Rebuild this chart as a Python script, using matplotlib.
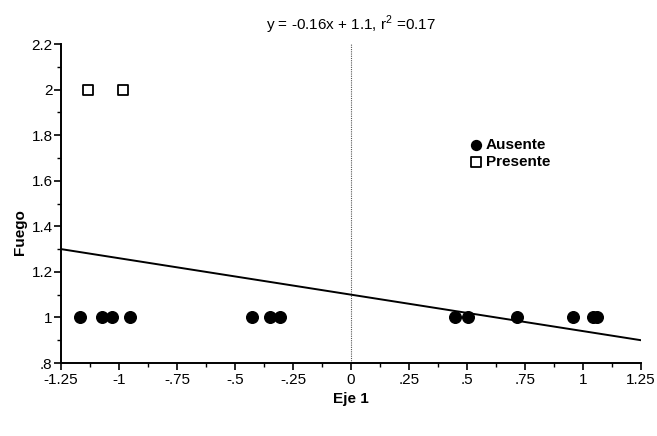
import matplotlib
matplotlib.use("Agg")
import matplotlib.pyplot as plt
from matplotlib.ticker import MultipleLocator, FuncFormatter
import numpy as np

ausente_x = [-1.168, -1.073, -1.030, -0.953, -0.427, -0.349, -0.306,
             0.448, 0.504, 0.716, 0.957, 1.043, 1.060]
ausente_y = [1] * len(ausente_x)
presente_x = [-1.134, -0.983]
presente_y = [2, 2]
slope = -0.16
intercept = 1.1
r2 = 0.17

plt.rcParams['font.family'] = ['Liberation Sans', 'DejaVu Sans']

fig = plt.figure(figsize=(6.57, 4.36), dpi=100)
ax = fig.add_axes([0.0928, 0.1674, 0.8829, 0.7316])

ax.axvline(0, color='#555555', lw=0.8, ls=(0, (1, 1)), zorder=1)
xs = np.array([-1.25, 1.25])
ax.plot(xs, slope * xs + intercept, color='black', lw=1.4, zorder=2)
ax.scatter(ausente_x, ausente_y, s=70, marker='o', color='black', zorder=3, label='Ausente')
ax.scatter(presente_x, presente_y, s=60, marker='s', facecolor='white', edgecolor='black',
           linewidths=1.3, zorder=3, label='Presente')

ax.set_xlim(-1.25, 1.25)
ax.set_ylim(0.8, 2.2)
for s in ['top', 'right']:
    ax.spines[s].set_visible(False)
for s in ['left', 'bottom']:
    ax.spines[s].set_linewidth(1.4)

def fmt(v, pos):
    s = ('%.2f' % v).rstrip('0').rstrip('.')
    if s.startswith('0.'):
        s = s[1:]
    elif s.startswith('-0.'):
        s = '-' + s[2:]
    if s == '-0':
        s = '0'
    return s

ax.xaxis.set_major_locator(MultipleLocator(0.25))
ax.xaxis.set_minor_locator(MultipleLocator(0.125))
ax.yaxis.set_major_locator(MultipleLocator(0.2))
ax.yaxis.set_minor_locator(MultipleLocator(0.1))
ax.xaxis.set_major_formatter(FuncFormatter(fmt))
ax.yaxis.set_major_formatter(FuncFormatter(fmt))
ax.tick_params(which='major', direction='out', length=5, width=1.2, labelsize=11)
ax.tick_params(which='minor', direction='out', length=3, width=1)
ax.tick_params(axis='x', pad=2)
ax.tick_params(axis='y', pad=1)

ax.set_xlabel('Eje 1', fontsize=11, fontweight='bold')
ax.set_ylabel('Fuego', fontsize=11, fontweight='bold')
ax.yaxis.set_label_coords(-0.058, 0.41)
ax.set_title('y = -0.16x + 1.1, r$^{\\mathregular{2}}$ =0.17', fontsize=11, pad=10)

ax.legend(loc='upper left', bbox_to_anchor=(0.69, 0.728), frameon=False,
          handletextpad=0.1, borderpad=0, labelspacing=0.15, handlelength=1,
          markerscale=0.85, prop={'weight': 'bold', 'size': 11})

fig.savefig('out.png', dpi=100)
